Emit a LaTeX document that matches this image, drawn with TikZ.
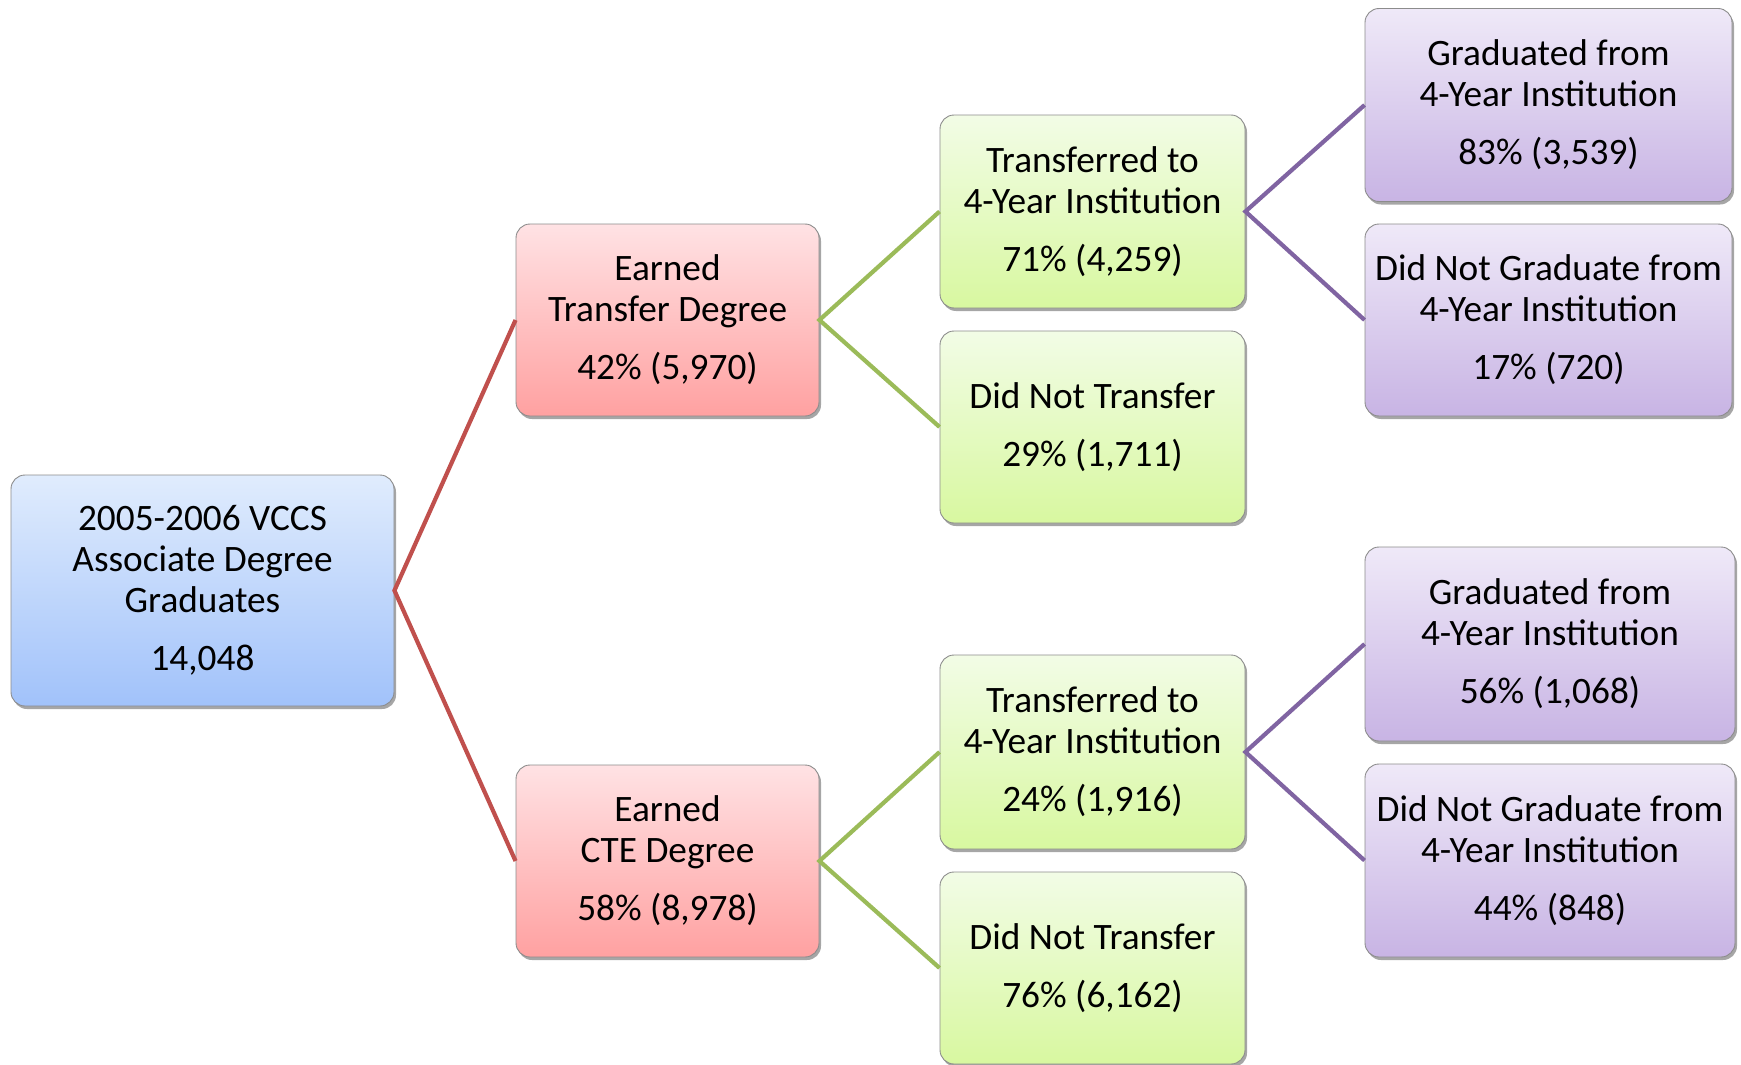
\documentclass[tikz,border=0pt]{standalone}
\usepackage{fontspec}
\setmainfont{Carlito}
\usetikzlibrary{shadows}
\definecolor{redline}{HTML}{C0504D}
\definecolor{greenline}{HTML}{9BBB59}
\definecolor{purpleline}{HTML}{8064A2}
\tikzset{
  box/.style={rectangle, rounded corners=14pt, draw=black!45, line width=0.9pt,
    align=center, inner sep=0pt, font=\fontsize{37.3}{41}\selectfont,
    drop shadow={shadow xshift=2pt, shadow yshift=-3pt, opacity=0.35, fill=black}},
  bluebox/.style={box, top color={rgb,255:red,224;green,236;blue,253}, bottom color={rgb,255:red,161;green,194;blue,250}},
  redbox/.style={box, top color={rgb,255:red,255;green,226;blue,228}, bottom color={rgb,255:red,255;green,161;blue,161}},
  greenbox/.style={box, top color={rgb,255:red,242;green,252;blue,230}, bottom color={rgb,255:red,216;green,248;blue,160}},
  purplebox/.style={box, top color={rgb,255:red,239;green,233;blue,248}, bottom color={rgb,255:red,200;green,180;blue,228}},
  redconn/.style={draw=redline, line width=4.2pt},
  greenconn/.style={draw=greenline, line width=4.2pt},
  purpleconn/.style={draw=purpleline, line width=4.2pt},
}
\newcommand{\pgap}{\\[17pt]}
\begin{document}
\begin{tikzpicture}[x=1pt,y=-1pt]
\useasboundingbox (0,0) rectangle (1741,1065);
\node[bluebox, minimum width=383pt, minimum height=231pt] (root) at (202.5,590.5)
  {2005-2006 VCCS\\Associate Degree\\Graduates\pgap 14,048};
\node[redbox, minimum width=303pt, minimum height=192pt] (rt) at (667.5,320)
  {Earned\\Transfer Degree\pgap 42\% (5,970)};
\node[redbox, minimum width=303pt, minimum height=192pt] (rb) at (667.5,861)
  {Earned\\CTE Degree\pgap 58\% (8,978)};
\node[greenbox, minimum width=305pt, minimum height=193pt] (g1) at (1092.5,211.5)
  {Transferred to\\4-Year Institution\pgap 71\% (4,259)};
\node[greenbox, minimum width=305pt, minimum height=192pt] (g2) at (1092.5,427)
  {Did Not Transfer\pgap 29\% (1,711)};
\node[greenbox, minimum width=305pt, minimum height=194pt] (g3) at (1092.5,752)
  {Transferred to\\4-Year Institution\pgap 24\% (1,916)};
\node[greenbox, minimum width=305pt, minimum height=192pt] (g4) at (1092.5,968)
  {Did Not Transfer\pgap 76\% (6,162)};
\node[purplebox, minimum width=367pt, minimum height=193pt] (p1) at (1548.5,105)
  {Graduated from\\4-Year Institution\pgap 83\% (3,539)};
\node[purplebox, minimum width=367pt, minimum height=192pt] (p2) at (1548.5,320)
  {Did Not Graduate from\\4-Year Institution\pgap 17\% (720)};
\node[purplebox, minimum width=370pt, minimum height=194pt] (p3) at (1550,644)
  {Graduated from\\4-Year Institution\pgap 56\% (1,068)};
\node[purplebox, minimum width=370pt, minimum height=193pt] (p4) at (1550,860.5)
  {Did Not Graduate from\\4-Year Institution\pgap 44\% (848)};
\draw[redconn] (rt.west) -- (root.east) -- (rb.west);
\draw[greenconn] (g1.west) -- (rt.east) -- (g2.west);
\draw[greenconn] (g3.west) -- (rb.east) -- (g4.west);
\draw[purpleconn] (p1.west) -- (g1.east) -- (p2.west);
\draw[purpleconn] (p3.west) -- (g3.east) -- (p4.west);
\end{tikzpicture}
\end{document}
